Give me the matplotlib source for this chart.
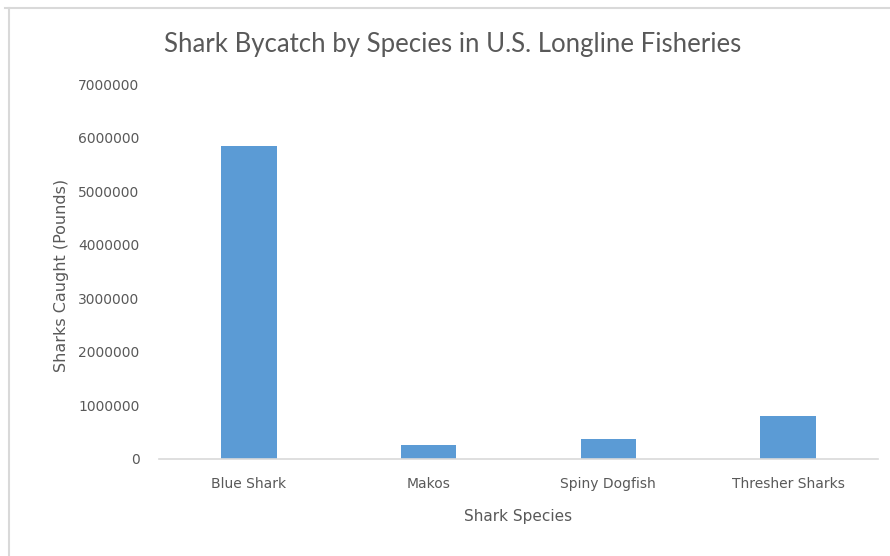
import matplotlib
matplotlib.use("Agg")
import matplotlib.pyplot as plt
from matplotlib.lines import Line2D

species = ["Blue Shark", "Makos", "Spiny Dogfish", "Thresher Sharks"]
pounds = [5840000, 260000, 370000, 800000]
yticks = [0, 1000000, 2000000, 3000000, 4000000, 5000000, 6000000, 7000000]

grey = "#595959"
fig = plt.figure(figsize=(8.9, 5.56), dpi=100)
ax = fig.add_axes([159/890, 1-459/556, (878-159)/890, (459-84)/556])

x = range(len(species))
ax.bar(x, pounds, width=0.31, color="#5B9BD5")
ax.set_xlim(-0.5, len(species)-0.5)
ax.set_ylim(0, 7000000)
ax.set_yticks(yticks)
ax.set_yticklabels([str(v) for v in yticks])
ax.set_xticks(list(x))
ax.set_xticklabels(species)
ax.tick_params(axis="y", length=0, pad=14, labelsize=10, labelcolor=grey)
ax.tick_params(axis="x", length=0, pad=13, labelsize=10, labelcolor=grey)
for s in ["top", "right", "left"]:
    ax.spines[s].set_visible(False)
ax.spines["bottom"].set_color("#D9D9D9")
ax.spines["bottom"].set_linewidth(1.2)

fig.text(453/890, 1-45/556, "Shark Bycatch by Species in U.S. Longline Fisheries",
         ha="center", va="center", fontsize=18.5, color=grey,
         family=["Lato", "DejaVu Sans"])
fig.text(518/890, 1-517/556, "Shark Species", ha="center", va="center",
         fontsize=11, color=grey)
fig.text(62/890, 1-275/556, "Sharks Caught (Pounds)", ha="center", va="center",
         fontsize=11.5, color=grey, rotation=90)

# chart frame (top and left edges visible)
fig.add_artist(Line2D([5/890, 1], [1-8/556, 1-8/556], transform=fig.transFigure,
                      color="#D9D9D9", lw=1.5))
fig.add_artist(Line2D([8.5/890, 8.5/890], [0, 1-8/556], transform=fig.transFigure,
                      color="#D9D9D9", lw=1.5))

fig.savefig("out.png", dpi=100)
